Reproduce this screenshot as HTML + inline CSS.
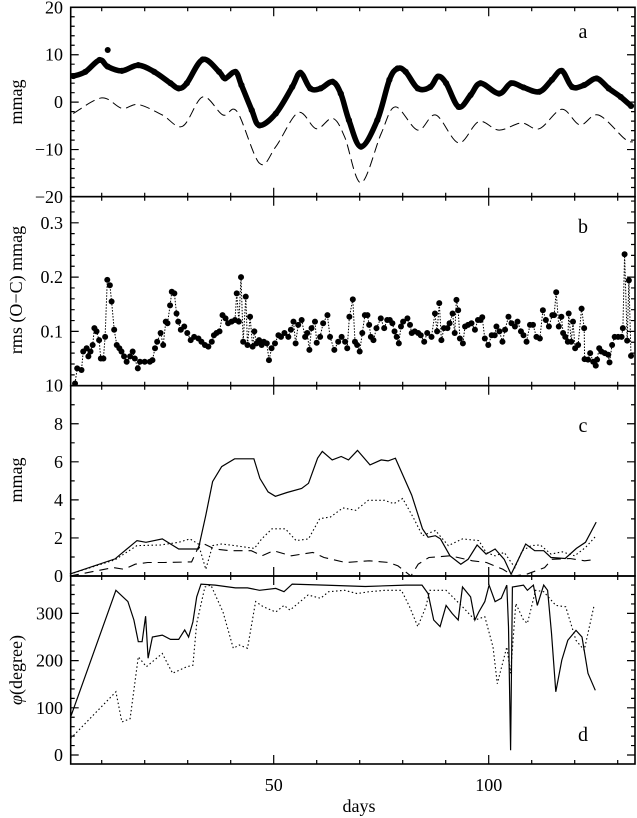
<!DOCTYPE html>
<html><head><meta charset="utf-8"><style>
body{margin:0;background:#fff}
svg{display:block;font-family:"Liberation Serif",serif}
text{fill:#000}
</style></head><body>
<svg id="chart" width="637" height="818" viewBox="0 0 637 818">
<g id="g"></g>
</svg>
<script>
// ---- data ----
const aDays=[3.4,6.2,9.5,11.4,14.7,18.5,22.2,26,27.9,29.8,33.5,37.3,38.7,41.1,42.5,44.9,46.7,50.5,54.3,56.2,58.5,60.9,63.7,65.6,67.5,70.3,74.1,76.9,78.8,80.7,83.5,86.4,88.2,90.1,93,95.8,98.1,102.4,105.2,108.1,111.8,114.7,117,119.4,122.2,125.1,127.9,130.7,133.1];
const aVals=[5.5,6.4,8.9,7.5,6.6,7.8,6.4,4,2.9,4,9,6.4,5,6.4,3.6,-1.7,-4.9,-2.4,3.2,6.2,2.9,2.9,4.3,1.8,-3.8,-9.4,-3.8,4.7,7.1,6.4,2.9,3.2,5.4,4,-1,1.5,4,1.8,4,3.1,2.2,4.7,6.6,3.2,3.6,5,2.9,1.1,-0.8];
const aOutDay=[11.4], aOutVal=[11];
const aDashDays=[3.4,10,14.7,18.5,24.1,28.8,33.5,38.2,41.5,46.7,50.5,55.7,59.9,63.7,66.5,70.3,75,78.3,83.5,87.7,93,97.7,102.4,107.6,111.8,117,121.2,125.5,131.6,133.5];
const aDashVals=[-2.4,0.9,-1.3,-0.5,-2.7,-5.1,1.1,-2.7,-2,-12.9,-9.4,-2.2,-5.6,-3.4,-7.3,-17,-6.6,-1,-5.9,-2.7,-8.6,-4.1,-5.9,-4.4,-5.6,-1.5,-4.8,-2.7,-7.7,-8.4];
const bDays=[3.8,4.3,5.3,5.7,6.5,6.9,7.4,7.9,8.3,8.8,9.4,9.8,10.4,10.8,11.3,11.9,12.3,12.9,13.5,14.1,14.6,15.2,15.8,16.6,17.2,17.7,18.4,18.9,20,21.2,21.8,22.4,22.9,23.7,24.3,24.9,25.3,25.9,26.3,26.9,27.4,27.8,28.4,29.2,29.9,30.7,31.5,32.5,33.2,34,34.8,35.6,36.1,36.7,37.4,38.1,38.8,39.4,40.2,41,41.4,41.9,42.4,42.9,43.5,43.9,44.5,45.1,45.5,46,46.6,47.2,47.7,48.4,48.9,49.5,50.3,51.1,51.7,52.5,53.4,54,54.6,55.1,55.7,56.5,57.3,57.8,58.3,58.8,59.6,60,60.8,61.5,62.5,63.1,64.1,65,65.8,66.6,67.1,67.6,68.4,68.9,69.4,70,70.6,71.2,71.8,72.2,72.6,73.2,73.9,74.9,75.7,76.4,77,77.6,78.1,78.6,79.1,79.6,80.1,81.1,81.7,82.1,82.8,83.6,84.2,85,85.7,86.7,87.5,88,88.5,89,89.6,90.4,90.9,91.6,92.1,92.5,92.9,93.3,94,94.5,95.2,96,96.8,97.5,98.1,98.5,99.1,99.9,100.7,101.4,101.8,102.5,103.2,103.8,104.6,105.3,106.1,106.7,107.5,108.1,108.8,109.6,110.3,111.1,111.9,112.6,113.3,114,114.8,115.2,115.7,116.3,116.9,117.3,117.8,118.4,118.6,119.2,119.6,120.1,120.8,121.6,122.2,122.3,123.1,123.6,124.3,124.9,125.2,125.7,126.2,127,127.8,128.1,128.7,129.3,130.1,130.9,131.2,131.6,132.2,132.6,133.1];
const bVals=[0.004,0.032,0.029,0.063,0.069,0.054,0.063,0.075,0.106,0.1,0.084,0.05,0.05,0.09,0.195,0.185,0.155,0.103,0.075,0.069,0.063,0.054,0.044,0.054,0.063,0.05,0.032,0.044,0.044,0.044,0.047,0.069,0.081,0.097,0.075,0.118,0.115,0.148,0.173,0.17,0.133,0.118,0.103,0.109,0.097,0.084,0.09,0.087,0.081,0.075,0.072,0.081,0.093,0.097,0.1,0.13,0.124,0.115,0.118,0.121,0.17,0.118,0.2,0.081,0.164,0.075,0.127,0.072,0.1,0.078,0.084,0.075,0.081,0.078,0.047,0.069,0.078,0.093,0.09,0.097,0.09,0.103,0.118,0.078,0.112,0.121,0.09,0.097,0.066,0.106,0.118,0.079,0.09,0.115,0.13,0.09,0.066,0.081,0.09,0.081,0.069,0.127,0.159,0.081,0.075,0.063,0.097,0.13,0.13,0.112,0.09,0.084,0.106,0.124,0.106,0.121,0.121,0.115,0.1,0.09,0.078,0.109,0.118,0.124,0.112,0.097,0.1,0.097,0.093,0.081,0.097,0.09,0.133,0.1,0.152,0.084,0.106,0.106,0.115,0.133,0.097,0.158,0.139,0.087,0.078,0.109,0.112,0.115,0.103,0.121,0.121,0.126,0.087,0.075,0.093,0.093,0.109,0.1,0.081,0.103,0.127,0.115,0.109,0.118,0.1,0.093,0.081,0.112,0.112,0.09,0.087,0.139,0.121,0.109,0.13,0.13,0.172,0.109,0.127,0.097,0.09,0.081,0.133,0.081,0.118,0.069,0.075,0.142,0.106,0.049,0.048,0.06,0.044,0.037,0.048,0.069,0.063,0.06,0.057,0.043,0.075,0.09,0.09,0.09,0.106,0.242,0.083,0.194,0.055];
const cSolDays=[2.6,13.1,18.2,20.3,24.1,27.9,32.5,32.9,34.2,35.8,37.9,40.9,45.4,46.8,48.7,50.4,53.1,56.5,58.1,60.2,61.3,63.6,65.7,67.4,69.5,72.4,75,76.6,78.3,82.1,84.6,85.9,87.6,88.8,91,93.5,95.2,97.3,99.4,101.5,103.6,105.2,107.3,108.6,110.7,112.8,114.5,117.8,120.4,122.5,125];
const cSolVals=[0.1,0.9,1.86,1.77,1.95,1.42,1.42,1.86,3.19,4.96,5.75,6.16,6.16,5.13,4.42,4.19,4.39,4.6,4.87,6.19,6.55,6.1,6.28,6.1,6.6,5.84,6.1,6.05,6.19,4.25,2.48,2.04,2.12,1.95,1.06,0.62,0.88,1.63,1.15,1.42,0.88,0.09,1.06,1.68,1.33,1.33,0.97,0.92,1.45,1.77,2.83];
const cDotDays=[2.6,13.1,18.2,23.7,27.9,30.5,32.5,34.2,35.8,37.9,40.9,45.5,47.2,49.6,52.7,55.2,58.1,60.7,63.2,66.1,69.1,72,75.8,77.9,80,82.6,84.6,87.6,90.6,93.9,97.7,99.4,101.5,103.6,106.1,107.8,109.9,112,114.5,117.1,120,122.5,125];
const cDotVals=[0.1,0.85,1.6,1.63,1.77,1.95,1.68,0.35,1.6,1.68,1.6,1.45,1.95,2.48,2.48,1.86,1.95,3.01,3.1,3.58,3.45,3.98,3.98,3.8,4.07,3.01,2.12,2.39,1.6,1.95,1.86,1.24,1.06,1.24,0.44,1.33,1.6,1.63,1.15,1.27,1.06,1.5,2.12];
const cDashDays=[2.6,12.7,15.2,17.8,20.7,24.5,30.9,33,36.3,39.8,44.8,47.3,49.9,54.1,59.1,61.7,66.7,72.2,76.8,78.9,81.9,83.6,86.1,91.1,96.2,99.5,103.3,105.8,108.8,113,114.7,118.9,122.3,125];
const cDashVals=[0,0.44,0.35,0.62,0.71,0.71,0.74,1.77,1.42,1.33,1.33,1.06,1.33,1.06,1.24,0.97,0.71,0.8,0.71,0.53,0,0.62,0.97,1.06,0.8,0.71,0.35,0,0.09,0.44,0.88,0.92,0.8,0.88];
const dSolDays=[2.8,13.3,16.1,17.5,18.5,19.4,20.2,20.8,21.8,24.1,26,27.9,29.3,30.2,31.2,32.1,33.1,36.4,41.1,43.9,46.7,50.5,52.4,54.3,61.8,71.3,80.7,84.5,85.9,87.2,88.7,90.1,91.5,92.9,93.9,95.8,96.8,97.7,99.1,100.1,101.5,102.9,104.2,104.6,105.1,105.5,108.1,109,110.4,111.3,112.8,113.7,114.6,115.6,117,118.4,120.3,121.7,123.1,124.8];
const dSolVals=[81,349,325,286,240,240,294,205,250,254,245,245,265,250,282,335,362,360,354,354,349,353,346,362,360,357,360,360,342,286,272,317,300,286,356,335,286,303,325,360,325,332,360,272,10,356,360,349,360,317,360,349,258,134,201,243,264,250,173,137];
const dDotDays=[2.8,13.3,14.7,16.6,18.5,20.4,24.1,26.5,29.8,31.2,32.1,34,35.4,38.2,40.6,42,43.9,45.8,47.6,50.5,52.4,53.8,58,60.9,62.8,66.5,69.4,72.2,76,79.7,81.6,83.5,85.4,86.3,90.1,93.9,96.8,99.1,101,102,104.2,105.1,106.3,108.1,109,110.9,112.8,115.6,117.9,120.3,122.2,124.5];
const dDotVals=[35,134,70,77,208,187,215,173,187,190,279,356,360,303,226,233,226,325,314,303,317,307,339,332,346,349,342,346,349,349,314,272,314,349,349,314,286,293,229,151,229,173,321,286,279,349,346,317,314,243,222,317];
const xTickLabels=[50,100];

// ---- layout ----
const XL=70.7, XR=635;
const X=d=>58.7+4.3*d;
const panels={
 a:{top:7.3,bot:196.7,y:v=>7.3+(20-v)*4.7425,min:-20,max:20,major:10,minor:2,labels:[20,10,0,-10,-20]},
 b:{top:196.7,bot:385.7,y:v=>385.7-v*543,min:0,max:0.348,major:0.1,minor:0.02,labels:['0.3','0.2','0.1']},
 c:{top:385.7,bot:576,y:v=>576-v*19.03,min:0,max:10,major:2,minor:1,labels:[10,8,6,4,2,0]},
 d:{top:576,bot:764,y:v=>755-v*0.472,min:-19,max:379,major:100,minor:20,labels:[300,200,100,0]}
};
const NS='http://www.w3.org/2000/svg';
const G=document.getElementById('g');
function mk(tag,attrs,parent){const e=document.createElementNS(NS,tag);for(const k in attrs)e.setAttribute(k,attrs[k]);(parent||G).appendChild(e);return e;}
function pathD(xs,ys,p){return xs.map((d,i)=>(i?'L':'M')+X(d).toFixed(1)+','+p.y(ys[i]).toFixed(1)).join('');}
function smoothD(xs,ys,p){
 const P=xs.map((d,i)=>[X(d),p.y(ys[i])]);
 let s='M'+P[0][0].toFixed(1)+','+P[0][1].toFixed(1);
 for(let i=0;i<P.length-1;i++){
  const p0=P[i-1]||P[i],p1=P[i],p2=P[i+1],p3=P[i+2]||p2;
  const c1=[p1[0]+(p2[0]-p0[0])/6,p1[1]+(p2[1]-p0[1])/6];
  const c2=[p2[0]-(p3[0]-p1[0])/6,p2[1]-(p3[1]-p1[1])/6];
  s+=`C${c1[0].toFixed(1)},${c1[1].toFixed(1)} ${c2[0].toFixed(1)},${c2[1].toFixed(1)} ${p2[0].toFixed(1)},${p2[1].toFixed(1)}`;
 }
 return s;
}

for(const key in panels){
 const p=panels[key];
 const grp=mk('g',{});
 
 
 let tk='';
 const n0=Math.ceil(p.min/p.minor-1e-6), n1=Math.floor(p.max/p.minor+1e-6);
 for(let n=n0;n<=n1;n++){
  const v=n*p.minor, y=p.y(v);
  if(y<=p.top+0.5||y>=p.bot-0.5)continue;
  const isMaj=Math.abs(v/p.major-Math.round(v/p.major))<1e-6;
  const L=isMaj?8:4;
  tk+=`M${XL},${y}h${L}M${XR},${y}h${-L}`;
 }
 for(let d=10;d<=130;d+=10){
  const x=X(d), L=(d%50===0)?9:4;
  tk+=`M${x},${p.top}v${L}M${x},${p.bot}v${-L}`;
 }
 const t=mk('path',{d:tk,stroke:'#000','stroke-width':1.2,fill:'none'},grp);
 
 
 const f=mk('rect',{x:XL,y:p.top,width:XR-XL,height:p.bot-p.top,fill:'none',stroke:'#000','stroke-width':1.6},grp);
 
 
 p.labels.forEach(l=>{
  const v=parseFloat(l);
  const tx=mk('text',{x:63,y:p.y(v)+6,'text-anchor':'end','font-size':18},grp);
  tx.textContent=(v<0?'\u2212'+Math.abs(v):l);
  
  
 });
 const pl=mk('text',{x:583,y:key==='a'?38:key==='b'?233:key==='c'?432:741,'text-anchor':'middle','font-size':20},grp);
 pl.textContent=key;
 
 
}

// panel a
const pa=panels.a;
let e=mk('path',{d:smoothD(aDashDays,aDashVals,pa),fill:'none',stroke:'#000','stroke-width':1,'stroke-dasharray':'10,5'});


e=mk('path',{d:smoothD(aDays,aVals,pa),fill:'none',stroke:'#000','stroke-width':5.5,'stroke-linejoin':'round','stroke-linecap':'round'});


aDays.forEach((d,i)=>{
 const c=mk('circle',{cx:X(d),cy:pa.y(aVals[i]),r:3.1});
 
 
});
aOutDay.forEach((d,i)=>{
 const c=mk('circle',{cx:X(d),cy:pa.y(aOutVal[i]),r:3});
 
 
});
// panel b
const pb=panels.b;
e=mk('path',{d:pathD(bDays,bVals,pb),fill:'none',stroke:'#000','stroke-width':1,'stroke-dasharray':'1.5,1.5'});


bDays.forEach((d,i)=>{
 const c=mk('circle',{cx:X(d),cy:pb.y(bVals[i]),r:3});
 
 
});
// panel c
const pc=panels.c;
e=mk('path',{d:pathD(cSolDays,cSolVals,pc),fill:'none',stroke:'#000','stroke-width':1.2});


e=mk('path',{d:pathD(cDotDays,cDotVals,pc),fill:'none',stroke:'#000','stroke-width':1.1,'stroke-dasharray':'1.5,2.5'});


e=mk('path',{d:pathD(cDashDays,cDashVals,pc),fill:'none',stroke:'#000','stroke-width':1.1,'stroke-dasharray':'9,6'});


// panel d
const pd=panels.d;
e=mk('path',{d:pathD(dSolDays,dSolVals,pd),fill:'none',stroke:'#000','stroke-width':1.2});


e=mk('path',{d:pathD(dDotDays,dDotVals,pd),fill:'none',stroke:'#000','stroke-width':1.1,'stroke-dasharray':'1.5,2.5'});


xTickLabels.forEach(v=>{
 const t=mk('text',{x:X(v),y:791,'text-anchor':'middle','font-size':18});
 t.textContent=v;
 
 
});
</script>
<svg width="637" height="818" style="position:absolute;left:0;top:0">
<text x="359" y="812" text-anchor="middle" font-size="18">days</text>
<text transform="translate(22,102) rotate(-90)" text-anchor="middle" font-size="18">mmag</text>
<text transform="translate(22,290) rotate(-90)" text-anchor="middle" font-size="18">rms (O−C) mmag</text>
<text transform="translate(22,480) rotate(-90)" text-anchor="middle" font-size="18">mmag</text>
<text transform="translate(22,670) rotate(-90)" text-anchor="middle" font-size="18"><tspan font-style="italic">φ</tspan>(degree)</text>
</svg>
</body></html>
